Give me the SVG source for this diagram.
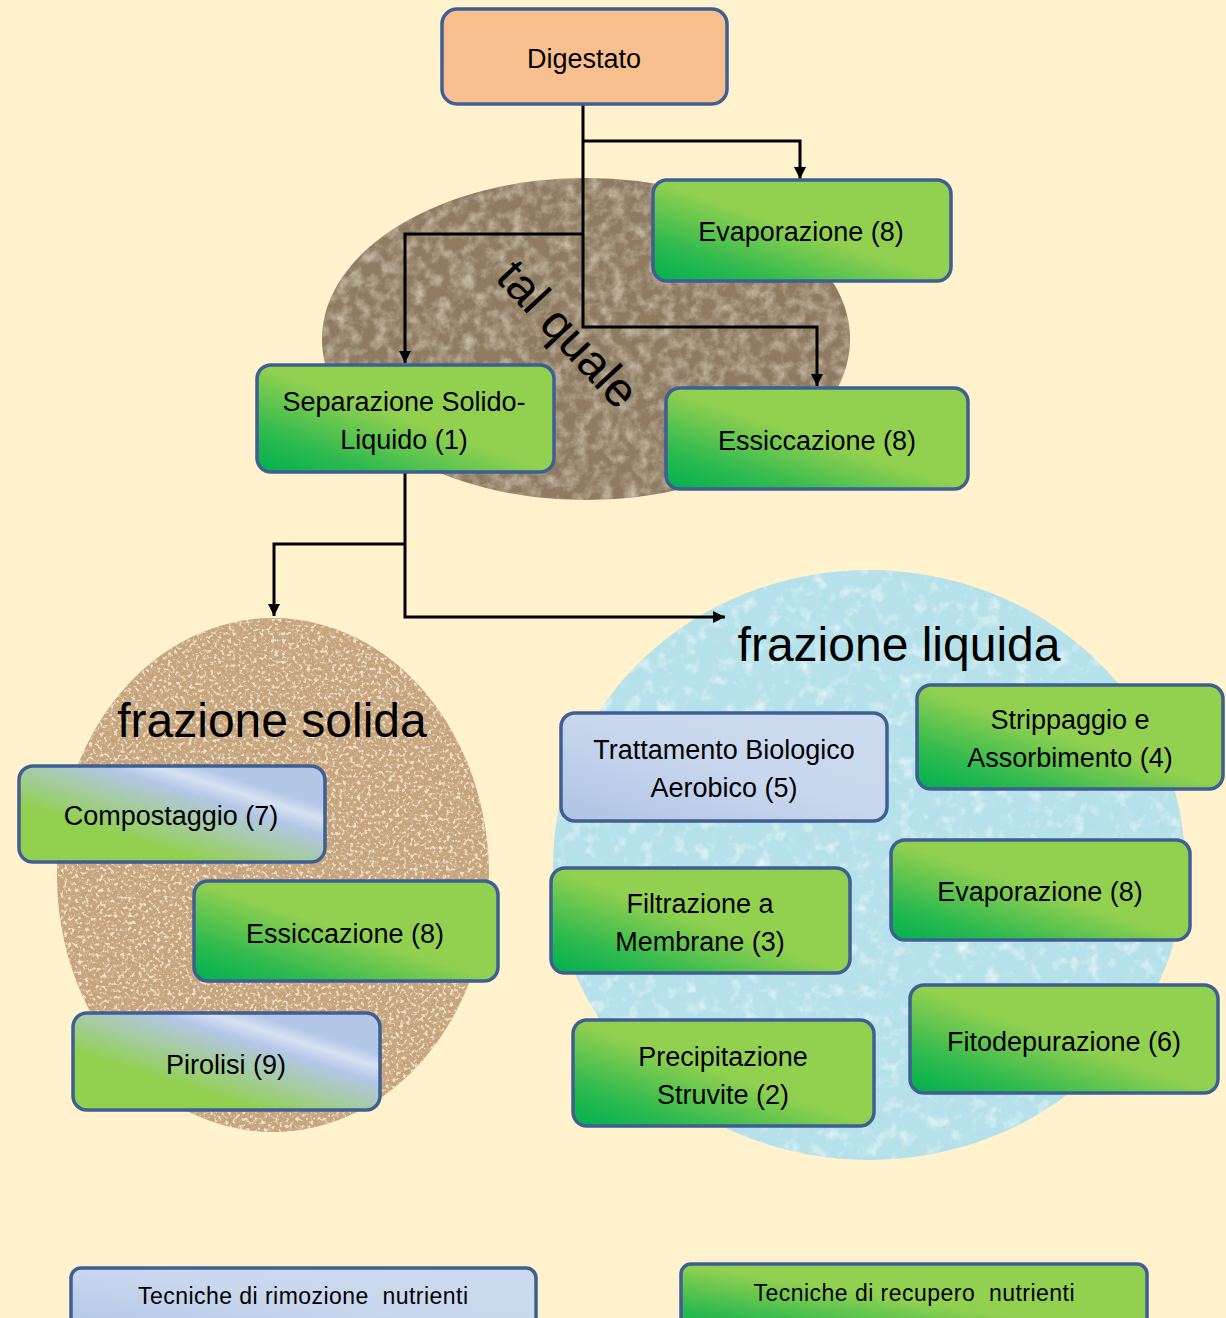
<svg xmlns="http://www.w3.org/2000/svg" width="1226" height="1318" viewBox="0 0 1226 1318">
<style>
.box{stroke:#3F5F92;stroke-width:3.5}
.t{font-family:"Liberation Sans",Arial,sans-serif;font-size:27px;fill:#000;text-anchor:middle}
.big{font-family:"Liberation Sans",Arial,sans-serif;font-size:48px;fill:#000;text-anchor:middle}
.leg{font-family:"Liberation Sans",Arial,sans-serif;font-size:23px;fill:#000;text-anchor:middle}
.conn{fill:none;stroke:#000;stroke-width:3}
</style>
<defs>
<linearGradient id="green" x1="0" y1="1" x2="1" y2="0">
<stop offset="0" stop-color="#00B050"/>
<stop offset="0.2" stop-color="#2EBA4F"/>
<stop offset="0.5" stop-color="#92D050"/>
<stop offset="1" stop-color="#92D050"/>
</linearGradient>
<linearGradient id="bluegreen" x1="0" y1="1" x2="1" y2="0">
<stop offset="0" stop-color="#92D050"/>
<stop offset="0.3" stop-color="#92D050"/>
<stop offset="0.64" stop-color="#B4C7E7"/>
<stop offset="0.72" stop-color="#D6E2F3"/>
<stop offset="0.79" stop-color="#B4C7E7"/>
<stop offset="1" stop-color="#B4C7E7"/>
</linearGradient>
<linearGradient id="blue" x1="0" y1="1" x2="1" y2="0">
<stop offset="0" stop-color="#AEC3E4"/>
<stop offset="0.5" stop-color="#C8D7ED"/>
<stop offset="1" stop-color="#CCDBEF"/>
</linearGradient>
<linearGradient id="peach" x1="0" y1="0" x2="0" y2="1">
<stop offset="0" stop-color="#F8BE8C"/>
<stop offset="1" stop-color="#F8C090"/>
</linearGradient>
<filter id="marble" x="0" y="0" width="100%" height="100%">
<feTurbulence type="fractalNoise" baseFrequency="0.08" numOctaves="5" seed="4" result="n"/>
<feColorMatrix in="n" type="matrix" values="0 0 0 0 0.76  0 0 0 0 0.69  0 0 0 0 0.56  1.4 0 0 0 -0.55" result="c"/>
<feComposite in="c" in2="SourceAlpha" operator="in"/>
</filter>
<filter id="corkdark" x="0" y="0" width="100%" height="100%">
<feTurbulence type="fractalNoise" baseFrequency="0.28" numOctaves="3" seed="7" result="n"/>
<feColorMatrix in="n" type="matrix" values="0 0 0 0 0.58  0 0 0 0 0.43  0 0 0 0 0.28  5 0 0 0 -2.5" result="c"/>
<feComposite in="c" in2="SourceAlpha" operator="in"/>
</filter>
<filter id="corklight" x="0" y="0" width="100%" height="100%">
<feTurbulence type="fractalNoise" baseFrequency="0.28" numOctaves="3" seed="21" result="n"/>
<feColorMatrix in="n" type="matrix" values="0 0 0 0 0.88  0 0 0 0 0.77  0 0 0 0 0.60  5 0 0 0 -2.6" result="c"/>
<feComposite in="c" in2="SourceAlpha" operator="in"/>
</filter>
<filter id="drops" x="0" y="0" width="100%" height="100%">
<feTurbulence type="fractalNoise" baseFrequency="0.07" numOctaves="3" seed="9" result="n"/>
<feColorMatrix in="n" type="matrix" values="0 0 0 0 0.88  0 0 0 0 0.96  0 0 0 0 0.97  2 0 0 0 -1.05" result="c"/>
<feComposite in="c" in2="SourceAlpha" operator="in"/>
</filter>
<filter id="dropsdark" x="0" y="0" width="100%" height="100%">
<feTurbulence type="fractalNoise" baseFrequency="0.09" numOctaves="2" seed="15" result="n"/>
<feColorMatrix in="n" type="matrix" values="0 0 0 0 0.55  0 0 0 0 0.75  0 0 0 0 0.80  2 0 0 0 -1.1" result="c"/>
<feComposite in="c" in2="SourceAlpha" operator="in"/>
</filter>
<marker id="arr" markerUnits="userSpaceOnUse" markerWidth="12" markerHeight="12" refX="12" refY="6" orient="auto">
<path d="M0,0 L12,6 L0,12 z" fill="#000"/>
</marker>
</defs>

<rect x="0" y="0" width="1226" height="1318" fill="#FFF2CC"/>

<g id="areas">
<g id="area-tal-quale">
<ellipse cx="586" cy="339" rx="264" ry="161" fill="#8E7B62"/>
<ellipse cx="586" cy="339" rx="264" ry="161" fill="#000" filter="url(#marble)"/>
<text class="big" x="556" y="345" transform="rotate(47 556 345)" font-size="51">tal quale</text>
</g>
<g id="area-solida">
<ellipse cx="273" cy="875" rx="216" ry="257" fill="#C6A37A"/>
<ellipse cx="273" cy="875" rx="216" ry="257" fill="#000" filter="url(#corkdark)"/>
<ellipse cx="273" cy="875" rx="216" ry="257" fill="#000" filter="url(#corklight)"/>
<text class="big" x="272" y="737">frazione solida</text>
</g>
<g id="area-liquida">
<ellipse cx="869" cy="865" rx="316" ry="295" fill="#B5E1EA"/>
<ellipse cx="869" cy="865" rx="316" ry="295" fill="#000" filter="url(#dropsdark)"/>
<ellipse cx="869" cy="865" rx="316" ry="295" fill="#000" filter="url(#drops)"/>
<text class="big" x="899" y="661">frazione liquida</text>
</g>
</g>

<g id="connectors">
<path class="conn" d="M583,104 V327 H817 V386" marker-end="url(#arr)"/>
<path class="conn" d="M583,141 H800 V179" marker-end="url(#arr)"/>
<path class="conn" d="M583,234 H405 V363" marker-end="url(#arr)"/>
<path class="conn" d="M405,472 V617 H725" marker-end="url(#arr)"/>
<path class="conn" d="M405,544 H274 V616" marker-end="url(#arr)"/>
</g>

<g id="digestato">
<rect class="box" x="442" y="9" width="285" height="95" rx="15" fill="url(#peach)"/>
<text class="t" x="584" y="68" font-size="28">Digestato</text>
</g>
<g id="evaporazione-1">
<rect class="box" x="653" y="180" width="298" height="101" rx="14" fill="url(#green)"/>
<text class="t" x="801" y="241">Evaporazione (8)</text>
</g>
<g id="separazione">
<rect class="box" x="257" y="365" width="297" height="107" rx="14" fill="url(#green)"/>
<text class="t" x="404" y="411">Separazione Solido-</text>
<text class="t" x="404" y="449">Liquido (1)</text>
</g>
<g id="essiccazione-1">
<rect class="box" x="666" y="388" width="302" height="101" rx="14" fill="url(#green)"/>
<text class="t" x="817" y="450">Essiccazione (8)</text>
</g>
<g id="compostaggio">
<rect class="box" x="19" y="766" width="306" height="96" rx="14" fill="url(#bluegreen)"/>
<text class="t" x="171" y="825">Compostaggio (7)</text>
</g>
<g id="essiccazione-2">
<rect class="box" x="194" y="881" width="304" height="100" rx="14" fill="url(#green)"/>
<text class="t" x="345" y="943">Essiccazione (8)</text>
</g>
<g id="pirolisi">
<rect class="box" x="73" y="1013" width="307" height="97" rx="14" fill="url(#bluegreen)"/>
<text class="t" x="226" y="1074">Pirolisi (9)</text>
</g>
<g id="trattamento">
<rect class="box" x="561" y="713" width="326" height="108" rx="14" fill="url(#blue)"/>
<text class="t" x="724" y="759">Trattamento Biologico</text>
<text class="t" x="724" y="797">Aerobico (5)</text>
</g>
<g id="strippaggio">
<rect class="box" x="917" y="685" width="306" height="104" rx="14" fill="url(#green)"/>
<text class="t" x="1070" y="729">Strippaggio e</text>
<text class="t" x="1070" y="767">Assorbimento (4)</text>
</g>
<g id="filtrazione">
<rect class="box" x="551" y="868" width="299" height="105" rx="14" fill="url(#green)"/>
<text class="t" x="700" y="913">Filtrazione a</text>
<text class="t" x="700" y="951">Membrane (3)</text>
</g>
<g id="evaporazione-2">
<rect class="box" x="891" y="840" width="299" height="100" rx="14" fill="url(#green)"/>
<text class="t" x="1040" y="901">Evaporazione (8)</text>
</g>
<g id="precipitazione">
<rect class="box" x="573" y="1020" width="301" height="106" rx="14" fill="url(#green)"/>
<text class="t" x="723" y="1066">Precipitazione</text>
<text class="t" x="723" y="1104">Struvite (2)</text>
</g>
<g id="fitodepurazione">
<rect class="box" x="910" y="985" width="308" height="108" rx="14" fill="url(#green)"/>
<text class="t" x="1064" y="1051">Fitodepurazione (6)</text>
</g>
<g id="legend-rimozione">
<rect class="box" x="71" y="1268" width="465" height="70" rx="10" fill="url(#blue)"/>
<text class="leg" x="303" y="1304" textLength="330" lengthAdjust="spacing">Tecniche di rimozione &#160;nutrienti</text>
</g>
<g id="legend-recupero">
<rect class="box" x="681" y="1264" width="466" height="74" rx="10" fill="url(#green)"/>
<text class="leg" x="914" y="1301" textLength="321" lengthAdjust="spacing">Tecniche di recupero &#160;nutrienti</text>
</g>
</svg>
